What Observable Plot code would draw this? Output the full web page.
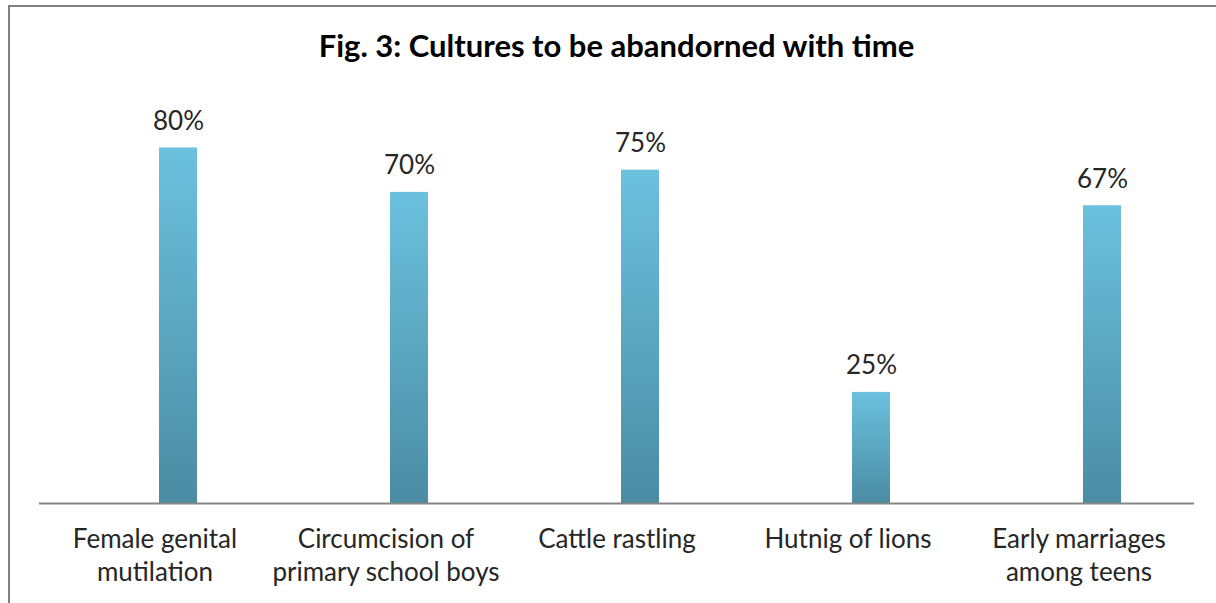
<!DOCTYPE html>
<html><head><meta charset="utf-8">
<script src="https://cdn.jsdelivr.net/npm/d3@7"></script>
<script src="https://cdn.jsdelivr.net/npm/@observablehq/plot@0.6"></script>
<style>
html,body{margin:0;padding:0;background:#fff;}
body{width:1216px;height:603px;overflow:hidden;position:relative;font-family:Lato,"Open Sans",sans-serif;}
#frame{position:absolute;left:8px;top:5px;right:-10px;bottom:-10px;border-left:2px solid #7f7f7f;border-top:2px solid #7f7f7f;pointer-events:none}
#title{height:90px;box-sizing:border-box;padding-top:26px;line-height:38px;font-size:31px;font-weight:bold;color:#000;text-align:center;padding-left:39px;padding-right:22px;white-space:nowrap}
#chart svg{display:block}
</style></head><body>
<div id="frame"></div>
<div id="title">Fig. 3: Cultures to be abandorned with time</div>
<div id="chart"></div>
<script>
const categories = ["Female genital mutilation", "Circumcision of primary school boys", "Cattle rastling", "Hutnig of lions", "Early marriages among teens"];
const tickLabels = ["Female genital\nmutilation", "Circumcision of\nprimary school boys", "Cattle rastling", "Hutnig of lions", "Early marriages\namong teens"];
const values = [80, 70, 75, 25, 67];

const data = categories.map((c, i) => ({category: c, label: tickLabels[i], value: values[i]}));

const gradientDefs = () => {
  const defs = d3.create("svg:defs");
  const g = defs.append("linearGradient").attr("id", "barGrad")
    .attr("x1", 0).attr("y1", 0).attr("x2", 0).attr("y2", 1);
  g.append("stop").attr("offset", "0%").attr("stop-color", "#6cc1de");
  g.append("stop").attr("offset", "100%").attr("stop-color", "#4a8ca3");
  return defs.node();
};

const chart = Plot.plot({
  width: 1216, height: 513,
  marginLeft: 39, marginRight: 22, marginTop: 13, marginBottom: 100,
  x: {domain: categories, padding: 0, axis: null},
  y: {domain: [0, 90], axis: null},
  style: {fontFamily: "Lato, 'Open Sans', sans-serif", background: "white", overflow: "visible"},
  marks: [
    gradientDefs,
    Plot.barY(data, {x: "category", y: "value", fill: "url(#barGrad)", insetLeft: 120, insetRight: 73}),
    Plot.ruleY([0], {stroke: "#868686", strokeWidth: 2}),
    Plot.text(data, {x: "category", y: "value", text: d => d.value + "%", dx: 23.5, dy: -18, lineAnchor: "bottom", fontSize: 26, fill: "#262626"}),
    Plot.text(data, {x: "category", text: "label", frameAnchor: "bottom", lineAnchor: "top", dy: 21.5, fontSize: 26, lineHeight: 1.27, fill: "#262626"})
  ]
});
document.getElementById("chart").append(chart);
</script>
</body></html>
